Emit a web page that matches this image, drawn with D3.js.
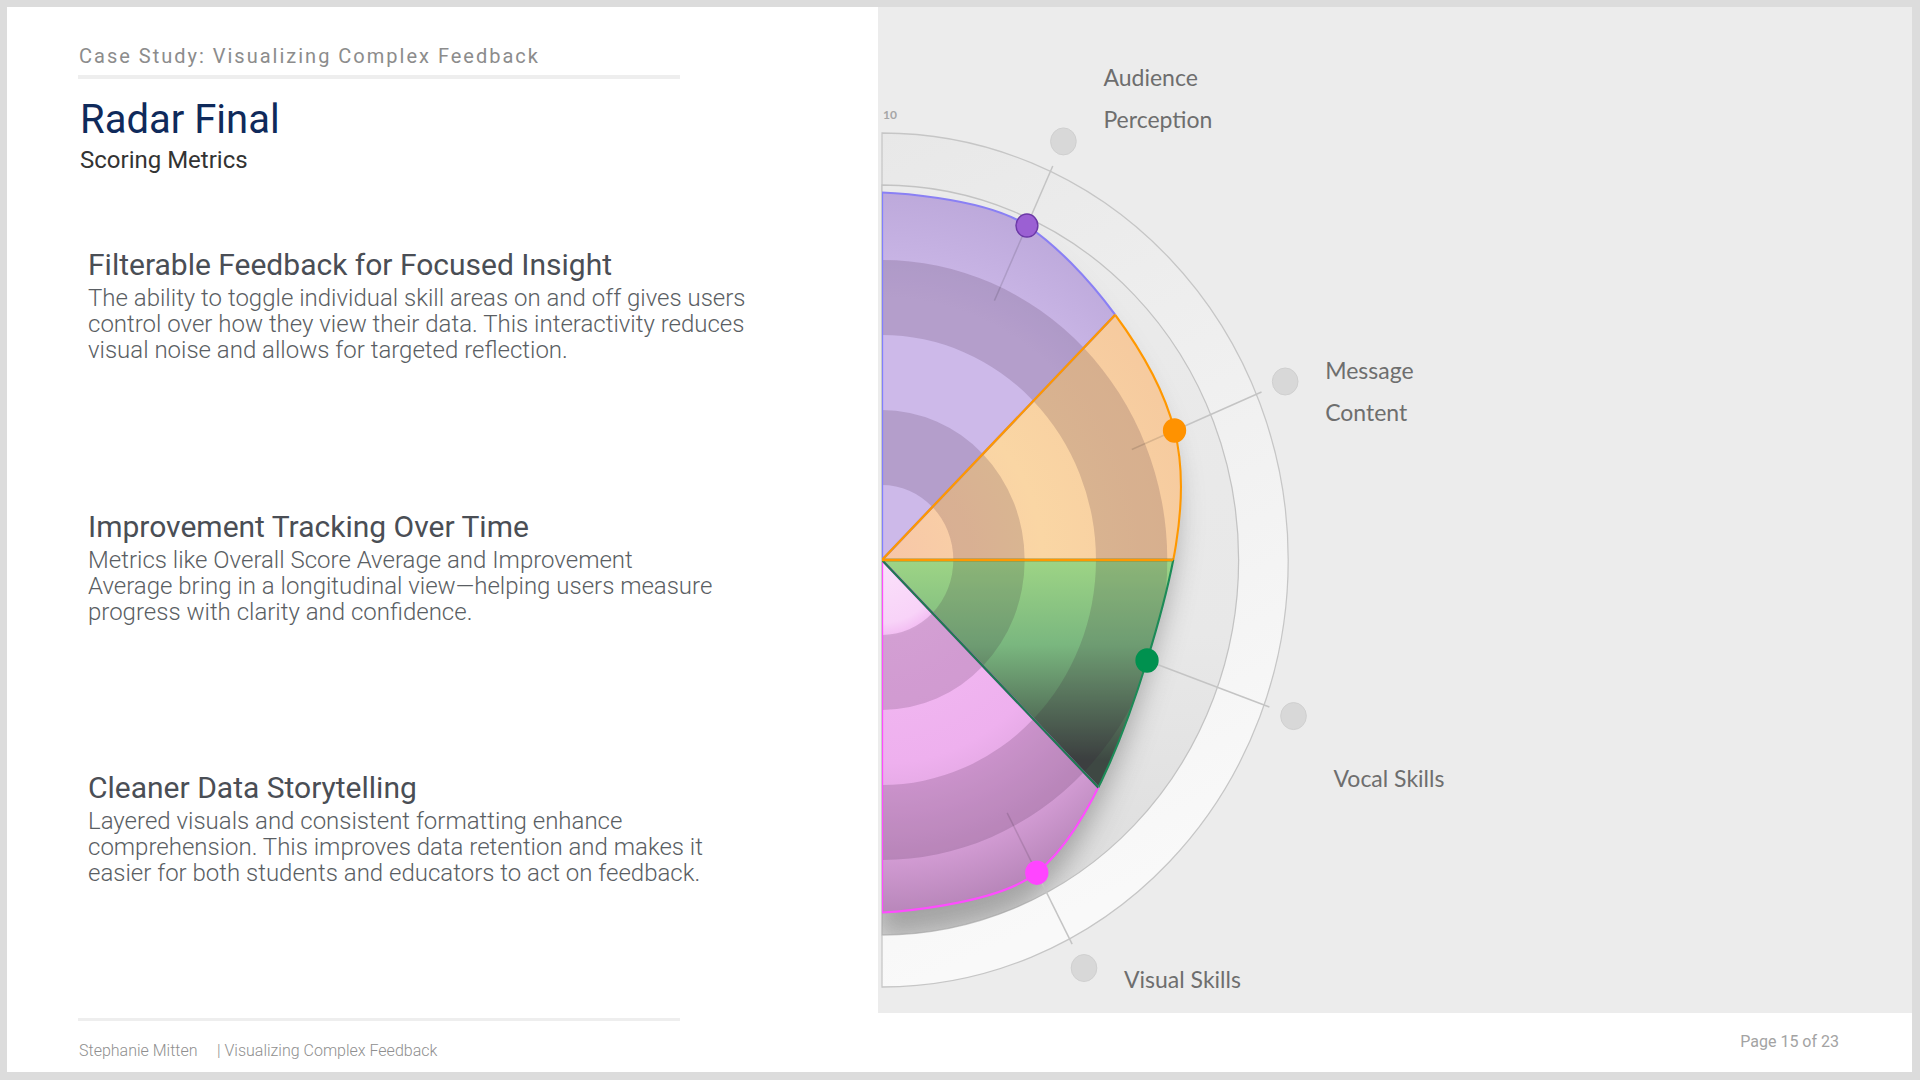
<!DOCTYPE html>
<html>
<head>
<meta charset="utf-8">
<script src="https://cdn.jsdelivr.net/npm/d3@7"></script>
<style>
  html, body { margin: 0; padding: 0; background: #dcdcdc; }
  svg { display: block; }
</style>
</head>
<body>
<svg id="slide" width="1920" height="1080"></svg>
<script>
// ---- data ----
const categories = ["Audience Perception", "Message Content", "Vocal Skills", "Visual Skills"];
const scores = [9.8, 8.9, 7.9, 9.4];
const axisLabels = [["Audience", "Perception"], ["Message", "Content"], ["Vocal Skills"], ["Visual Skills"]];
const scoreMax = 10;
const tickLabels = ["10"];

const kicker = "Case Study: Visualizing Complex Feedback";
const pageTitle = "Radar Final";
const pageSubtitle = "Scoring Metrics";
const sectionTitles = [
	"Filterable Feedback for Focused Insight",
	"Improvement Tracking Over Time",
	"Cleaner Data Storytelling"
];
const sectionBodies = [
	["The ability to toggle individual skill areas on and off gives users",
	 "control over how they view their data. This interactivity reduces",
	 "visual noise and allows for targeted reflection."],
	["Metrics like Overall Score Average and Improvement",
	 "Average bring in a longitudinal view\u2014helping users measure",
	 "progress with clarity and confidence."],
	["Layered visuals and consistent formatting enhance",
	 "comprehension. This improves data retention and makes it",
	 "easier for both students and educators to act on feedback."]
];
const footerAuthor = "Stephanie Mitten";
const footerTitle = "| Visualizing Complex Feedback";
const pageLabel = "Page 15 of 23";

// ---- layout & styles ----
const W = 1920, H = 1080;
const panel = { x: 878, y: 7, w: 1034, h: 1006 };
const cx = 882, cy = 560, squish = 0.951;
const innerR = 375, rimR = 427, labelR = 460;
const sectionY = [275, 537, 798];

const wedgeStyles = [
	{ fill: "url(#gPurple)", stroke: "#8a80f4", edge: "#8080ff", dot: "#9b60d3", dotStroke: "#6b38a6" },
	{ fill: "url(#gOrange)", stroke: "#ff9800", edge: "#ff9800", dot: "#ff9200", dotStroke: "#ff9200" },
	{ fill: "url(#gGreen)",  stroke: "#1c8b57", edge: "#1f7a52", dot: "#00914f", dotStroke: "#00914f" },
	{ fill: "url(#gPink)",   stroke: "#ff4cff", edge: "#ff4cff", dot: "#ff45ff", dotStroke: "#ff45ff" }
];
const edgeOrder = [0, 3, 2, 1];

const svg = d3.select("#slide");
const defs = svg.append("defs");

function addGradient(id, type, attrs, stops) {
	const g = defs.append(type).attr("id", id).attr("gradientUnits", "userSpaceOnUse");
	Object.entries(attrs).forEach(([k, v]) => g.attr(k, v));
	stops.forEach(([o, c]) => g.append("stop").attr("offset", o).attr("stop-color", c));
}

addGradient("gRim", "linearGradient", { x1: 0, y1: -rimR, x2: 320, y2: 300 },
	[[0, "#e8e8e8"], [1, "#f9f9f9"]]);
addGradient("gInner", "linearGradient", { x1: 0, y1: -innerR, x2: 0, y2: innerR },
	[[0, "#ebebeb"], [0.6, "#e8e8e8"], [1, "#dcdcdc"]]);
addGradient("gPurple", "radialGradient", { cx: 0, cy: 0, r: innerR },
	[[0, "#cdb9e9"], [0.7, "#cdb9e9"], [1, "#bca8da"]]);
addGradient("gOrange", "radialGradient", { cx: 0, cy: 0, r: innerR },
	[[0, "#f7c6a8"], [0.45, "#fad6a4"], [1, "#f5c89e"]]);
addGradient("gGreen", "linearGradient", { x1: 0, y1: -10, x2: 0, y2: 200 },
	[[0, "#a2d886"], [0.45, "#7ab77f"], [1, "#3e4843"]]);
addGradient("gPink", "radialGradient", { cx: 0, cy: 0, r: 370 },
	[[0, "#fbe2fb"], [0.17, "#f8d3f8"], [0.21, "#f2baf2"], [0.55, "#eeb0ee"], [0.8, "#d39cd4"], [1, "#b080b2"]]);

const blur = defs.append("filter").attr("id", "blur")
	.attr("x", "-30%").attr("y", "-30%").attr("width", "160%").attr("height", "160%");
blur.append("feGaussianBlur").attr("stdDeviation", 14);

// ---- frame ----
svg.append("rect").attr("width", W).attr("height", H).attr("fill", "#dcdcdc");
svg.append("rect").attr("x", 7).attr("y", 7).attr("width", 1905).attr("height", 1065).attr("fill", "#ffffff");
svg.append("rect").attr("x", panel.x).attr("y", panel.y).attr("width", panel.w).attr("height", panel.h)
	.attr("fill", "#ececec");

// ---- left column text ----
const left = svg.append("g").style("font-family", "Roboto, 'Noto Sans', sans-serif");

left.append("text").attr("x", 79).attr("y", 63).text(kicker)
	.attr("font-size", 20).attr("letter-spacing", 2).attr("fill", "#8c8c8c");
left.append("rect").attr("x", 78).attr("y", 75).attr("width", 602).attr("height", 4).attr("fill", "#eeeeee");
left.append("text").attr("x", 80).attr("y", 133).text(pageTitle)
	.attr("font-size", 40).attr("fill", "#0f2a5b");
left.append("text").attr("x", 80).attr("y", 168).text(pageSubtitle)
	.attr("font-size", 24).attr("fill", "#333333");

sectionTitles.forEach((title, i) => {
	left.append("text").attr("x", 88).attr("y", sectionY[i]).text(title)
		.attr("font-size", 30).attr("fill", "#4a4e55");
	left.append("text").attr("font-size", 24).attr("font-weight", 300).attr("fill", "#5a5e63")
		.selectAll("tspan").data(sectionBodies[i]).enter().append("tspan")
		.attr("x", 88).attr("y", (d, j) => sectionY[i] + 31 + j * 26).text(d => d);
});

left.append("rect").attr("x", 78).attr("y", 1018).attr("width", 602).attr("height", 3).attr("fill", "#eeeeee");
left.append("text").attr("x", 79).attr("y", 1056).text(footerAuthor)
	.attr("font-size", 16).attr("font-weight", 300).attr("fill", "#8f8f8f");
left.append("text").attr("x", 217).attr("y", 1056).text(footerTitle)
	.attr("font-size", 16).attr("font-weight", 300).attr("fill", "#8f8f8f");
left.append("text").attr("x", 1839).attr("y", 1047).attr("text-anchor", "end").text(pageLabel)
	.attr("font-size", 16).attr("fill", "#a3a3a3");

// ---- chart ----
defs.append("clipPath").attr("id", "panelClip").append("rect")
	.attr("x", panel.x).attr("y", panel.y).attr("width", panel.w).attr("height", panel.h);

const chart = svg.append("g").attr("clip-path", "url(#panelClip)");
const plot = chart.append("g").attr("transform", `translate(${cx},${cy}) scale(${squish},1)`);

const rScale = d3.scaleLinear().domain([0, scoreMax]).range([0, innerR]);
const wedgeScale = d3.scaleBand().domain(categories).range([0, Math.PI]);
const axisScale = d3.scalePoint().domain(categories).range([24.5 * Math.PI / 180, 152.5 * Math.PI / 180]);

const points = categories.map((c, i) => ({ angle: axisScale(c), value: scores[i] }));
const curvePts = [{ angle: 0, value: scores[0] }, ...points, { angle: Math.PI, value: scores[scores.length - 1] }];

const area = d3.areaRadial()
	.angle(d => d.angle).innerRadius(0).outerRadius(d => rScale(d.value))
	.curve(d3.curveCatmullRom);
const outline = d3.lineRadial()
	.angle(d => d.angle).radius(d => rScale(d.value))
	.curve(d3.curveCatmullRom);
const arcGen = d3.arc();
const halfDisk = (r0, r1) => arcGen({ innerRadius: r0, outerRadius: r1, startAngle: 0, endAngle: Math.PI });
const sector = c => arcGen({ innerRadius: 0, outerRadius: rimR + 80,
	startAngle: wedgeScale(c), endAngle: wedgeScale(c) + wedgeScale.bandwidth() });

defs.append("clipPath").attr("id", "areaClip").append("path").attr("d", area(curvePts));
defs.append("clipPath").attr("id", "innerClip").append("path").attr("d", halfDisk(0, innerR));
categories.forEach((c, i) => {
	defs.append("clipPath").attr("id", `sector${i}`).append("path").attr("d", sector(c));
});

// background rim and inner disk
plot.append("path").attr("d", halfDisk(0, rimR))
	.attr("fill", "url(#gRim)").attr("stroke", "#c6c6c6").attr("stroke-width", 1.3);
plot.append("path").attr("d", halfDisk(0, innerR))
	.attr("fill", "url(#gInner)").attr("stroke", "#c3c3c3").attr("stroke-width", 1.3);

// soft shadow beneath the shape
plot.append("g").attr("clip-path", "url(#innerClip)")
	.append("path").attr("d", area(curvePts))
	.attr("transform", "translate(-4,26)")
	.attr("fill", "#6a6a6a").attr("opacity", 0.5).attr("filter", "url(#blur)");

// spokes and axis end markers
const polar = (a, r) => [r * Math.sin(a), -r * Math.cos(a)];
const spokes = plot.append("g");
categories.forEach(c => {
	const a = axisScale(c);
	const [x0, y0] = polar(a, innerR * 0.76);
	const [x1, y1] = polar(a, labelR - 27);
	const [xd, yd] = polar(a, labelR);
	spokes.append("line").attr("x1", x0).attr("y1", y0).attr("x2", x1).attr("y2", y1)
		.attr("stroke", "#c4c4c4").attr("stroke-width", 1.6);
	spokes.append("circle").attr("cx", xd).attr("cy", yd).attr("r", 13.5)
		.attr("fill", "#d8d8d8").attr("stroke", "#cfcfcf").attr("stroke-width", 1);
});

// wedges
const wedges = plot.append("g");
categories.forEach((c, i) => {
	wedges.append("path").attr("d", area(curvePts))
		.attr("clip-path", `url(#sector${i})`)
		.attr("fill", wedgeStyles[i].fill);
});

// concentric bands inside the shape
const bandTicks = rScale.ticks(5);
const bands = plot.append("g").attr("clip-path", "url(#areaClip)");
bands.selectAll("path").data(d3.pairs(bandTicks).filter((p, i) => i % 2 === 1)).enter()
	.append("path")
	.attr("d", p => halfDisk(rScale(p[0]), rScale(p[1])))
	.attr("fill", "rgba(50,20,50,0.16)");

// faint spoke continuation seen through the fill
plot.append("g").attr("clip-path", "url(#areaClip)").selectAll("line").data(categories).enter()
	.append("line")
	.attr("x1", c => polar(axisScale(c), innerR * 0.76)[0])
	.attr("y1", c => polar(axisScale(c), innerR * 0.76)[1])
	.attr("x2", c => polar(axisScale(c), innerR)[0])
	.attr("y2", c => polar(axisScale(c), innerR)[1])
	.attr("stroke", "#000").attr("stroke-opacity", 0.12).attr("stroke-width", 1.6);

// outlines
categories.forEach((c, i) => {
	plot.append("path").attr("d", outline(curvePts))
		.attr("clip-path", `url(#sector${i})`)
		.attr("fill", "none").attr("stroke", wedgeStyles[i].stroke).attr("stroke-width", 2.2);
});
const edges = plot.append("g").attr("clip-path", "url(#areaClip)");
edgeOrder.forEach(i => {
	edges.append("path").attr("d", sector(categories[i]))
		.attr("fill", "none").attr("stroke", wedgeStyles[i].edge).attr("stroke-width", 2.4);
});

// score dots
plot.append("g").selectAll("circle").data(points).enter().append("circle")
	.attr("cx", d => polar(d.angle, rScale(d.value))[0])
	.attr("cy", d => polar(d.angle, rScale(d.value))[1])
	.attr("r", 11.5)
	.attr("fill", (d, i) => wedgeStyles[i].dot)
	.attr("stroke", (d, i) => wedgeStyles[i].dotStroke).attr("stroke-width", 1.5);

// tick label
chart.append("text").attr("x", cx + 1).attr("y", cy - rimR - 14).text(tickLabels[0])
	.attr("font-family", "Lato, 'DejaVu Sans', sans-serif").attr("font-weight", 700)
	.attr("font-size", 12).attr("fill", "#a6a6a6");

// axis labels: to the right of each end marker, dropping lower as the axis turns downward
const labels = chart.append("g")
	.style("font-family", "Lato, 'Noto Sans', sans-serif").attr("font-size", 23).attr("fill", "#6e6e6e");
const lastBaseline = panel.y + panel.h - 25;
categories.forEach((c, i) => {
	const a = axisScale(c);
	const deg = a * 180 / Math.PI;
	const px = cx + squish * labelR * Math.sin(a);
	const py = cy - labelR * Math.cos(a);
	const lines = axisLabels[i];
	let yc = py + 1.23 * (deg - 59);
	yc = Math.min(yc, lastBaseline - 8 - (lines.length - 1) * 21);
	labels.append("text").selectAll("tspan").data(lines).enter().append("tspan")
		.attr("x", px + 40)
		.attr("y", (d, j) => yc + (j - (lines.length - 1) / 2) * 42 + 8)
		.text(d => d);
});
</script>
</body>
</html>
